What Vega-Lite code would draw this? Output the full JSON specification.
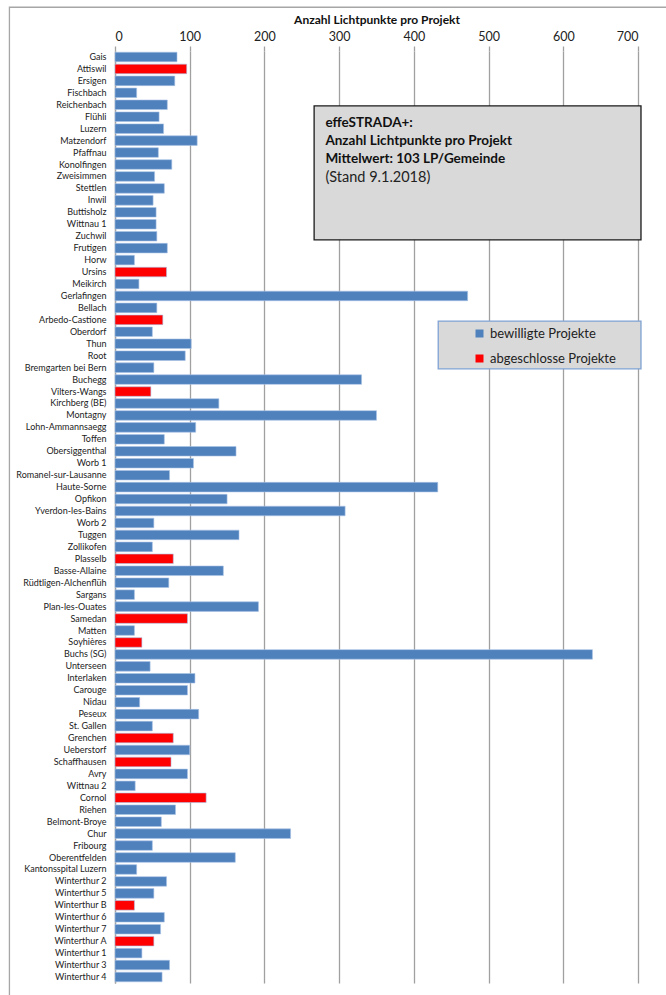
{
  "$schema": "https://vega.github.io/schema/vega-lite/v6.json",
  "width": 523,
  "height": 932,
  "autosize": {"type": "none"},
  "padding": {"left": 115, "top": 51, "right": 28, "bottom": 12},
  "background": "white",
  "config": {
    "view": {"stroke": null},
    "font": "Lato",
    "legend": {"labelFont": "Lato", "titleFont": "Lato"}
  },
  "resolve": {"scale": {"y": "independent"}},
  "layer": [
    {
      "data": {"values": [{"x0": -141.3, "x1": 760, "r0": -3.66, "r1": 82}]},
      "mark": {"type": "rect", "fill": null, "stroke": "#a6a6a6", "strokeWidth": 1.3},
      "encoding": {
        "x": {"field": "x0", "type": "quantitative", "title": "Anzahl Lichtpunkte pro Projekt"},
        "x2": {"field": "x1"},
        "y": {"field": "r0", "type": "quantitative", "scale": {"domain": [0, 78], "reverse": true, "nice": false, "zero": false}, "axis": null},
        "y2": {"field": "r1"}
      }
    },
    {
      "data": {"values": [
        {"Projekt": "Gais", "LP": 83, "Status": "bewilligte Projekte"},
        {"Projekt": "Attiswil", "LP": 96, "Status": "abgeschlosse Projekte"},
        {"Projekt": "Ersigen", "LP": 80, "Status": "bewilligte Projekte"},
        {"Projekt": "Fischbach", "LP": 29, "Status": "bewilligte Projekte"},
        {"Projekt": "Reichenbach", "LP": 70, "Status": "bewilligte Projekte"},
        {"Projekt": "Flühli", "LP": 59, "Status": "bewilligte Projekte"},
        {"Projekt": "Luzern", "LP": 65, "Status": "bewilligte Projekte"},
        {"Projekt": "Matzendorf", "LP": 110, "Status": "bewilligte Projekte"},
        {"Projekt": "Pfaffnau", "LP": 58, "Status": "bewilligte Projekte"},
        {"Projekt": "Konolfingen", "LP": 76, "Status": "bewilligte Projekte"},
        {"Projekt": "Zweisimmen", "LP": 53, "Status": "bewilligte Projekte"},
        {"Projekt": "Stettlen", "LP": 66, "Status": "bewilligte Projekte"},
        {"Projekt": "Inwil", "LP": 51, "Status": "bewilligte Projekte"},
        {"Projekt": "Buttisholz", "LP": 55, "Status": "bewilligte Projekte"},
        {"Projekt": "Wittnau 1", "LP": 55, "Status": "bewilligte Projekte"},
        {"Projekt": "Zuchwil", "LP": 56, "Status": "bewilligte Projekte"},
        {"Projekt": "Frutigen", "LP": 70, "Status": "bewilligte Projekte"},
        {"Projekt": "Horw", "LP": 26, "Status": "bewilligte Projekte"},
        {"Projekt": "Ursins", "LP": 69, "Status": "abgeschlosse Projekte"},
        {"Projekt": "Meikirch", "LP": 32, "Status": "bewilligte Projekte"},
        {"Projekt": "Gerlafingen", "LP": 472, "Status": "bewilligte Projekte"},
        {"Projekt": "Bellach", "LP": 56, "Status": "bewilligte Projekte"},
        {"Projekt": "Arbedo-Castione", "LP": 64, "Status": "abgeschlosse Projekte"},
        {"Projekt": "Oberdorf", "LP": 50, "Status": "bewilligte Projekte"},
        {"Projekt": "Thun", "LP": 102, "Status": "bewilligte Projekte"},
        {"Projekt": "Root", "LP": 94, "Status": "bewilligte Projekte"},
        {"Projekt": "Bremgarten bei Bern", "LP": 52, "Status": "bewilligte Projekte"},
        {"Projekt": "Buchegg", "LP": 330, "Status": "bewilligte Projekte"},
        {"Projekt": "Vilters-Wangs", "LP": 48, "Status": "abgeschlosse Projekte"},
        {"Projekt": "Kirchberg (BE)", "LP": 139, "Status": "bewilligte Projekte"},
        {"Projekt": "Montagny", "LP": 350, "Status": "bewilligte Projekte"},
        {"Projekt": "Lohn-Ammannsaegg", "LP": 108, "Status": "bewilligte Projekte"},
        {"Projekt": "Toffen", "LP": 66, "Status": "bewilligte Projekte"},
        {"Projekt": "Obersiggenthal", "LP": 162, "Status": "bewilligte Projekte"},
        {"Projekt": "Worb 1", "LP": 105, "Status": "bewilligte Projekte"},
        {"Projekt": "Romanel-sur-Lausanne", "LP": 73, "Status": "bewilligte Projekte"},
        {"Projekt": "Haute-Sorne", "LP": 432, "Status": "bewilligte Projekte"},
        {"Projekt": "Opfikon", "LP": 150, "Status": "bewilligte Projekte"},
        {"Projekt": "Yverdon-les-Bains", "LP": 308, "Status": "bewilligte Projekte"},
        {"Projekt": "Worb 2", "LP": 52, "Status": "bewilligte Projekte"},
        {"Projekt": "Tuggen", "LP": 166, "Status": "bewilligte Projekte"},
        {"Projekt": "Zollikofen", "LP": 50, "Status": "bewilligte Projekte"},
        {"Projekt": "Plasselb", "LP": 78, "Status": "abgeschlosse Projekte"},
        {"Projekt": "Basse-Allaine", "LP": 145, "Status": "bewilligte Projekte"},
        {"Projekt": "Rüdtligen-Alchenflüh", "LP": 72, "Status": "bewilligte Projekte"},
        {"Projekt": "Sargans", "LP": 26, "Status": "bewilligte Projekte"},
        {"Projekt": "Plan-les-Ouates", "LP": 192, "Status": "bewilligte Projekte"},
        {"Projekt": "Samedan", "LP": 97, "Status": "abgeschlosse Projekte"},
        {"Projekt": "Matten", "LP": 26, "Status": "bewilligte Projekte"},
        {"Projekt": "Soyhières", "LP": 36, "Status": "abgeschlosse Projekte"},
        {"Projekt": "Buchs (SG)", "LP": 639, "Status": "bewilligte Projekte"},
        {"Projekt": "Unterseen", "LP": 47, "Status": "bewilligte Projekte"},
        {"Projekt": "Interlaken", "LP": 107, "Status": "bewilligte Projekte"},
        {"Projekt": "Carouge", "LP": 97, "Status": "bewilligte Projekte"},
        {"Projekt": "Nidau", "LP": 33, "Status": "bewilligte Projekte"},
        {"Projekt": "Peseux", "LP": 112, "Status": "bewilligte Projekte"},
        {"Projekt": "St. Gallen", "LP": 50, "Status": "bewilligte Projekte"},
        {"Projekt": "Grenchen", "LP": 78, "Status": "abgeschlosse Projekte"},
        {"Projekt": "Ueberstorf", "LP": 100, "Status": "bewilligte Projekte"},
        {"Projekt": "Schaffhausen", "LP": 75, "Status": "abgeschlosse Projekte"},
        {"Projekt": "Avry", "LP": 97, "Status": "bewilligte Projekte"},
        {"Projekt": "Wittnau 2", "LP": 27, "Status": "bewilligte Projekte"},
        {"Projekt": "Cornol", "LP": 122, "Status": "abgeschlosse Projekte"},
        {"Projekt": "Riehen", "LP": 81, "Status": "bewilligte Projekte"},
        {"Projekt": "Belmont-Broye", "LP": 62, "Status": "bewilligte Projekte"},
        {"Projekt": "Chur", "LP": 235, "Status": "bewilligte Projekte"},
        {"Projekt": "Fribourg", "LP": 50, "Status": "bewilligte Projekte"},
        {"Projekt": "Oberentfelden", "LP": 161, "Status": "bewilligte Projekte"},
        {"Projekt": "Kantonsspital Luzern", "LP": 29, "Status": "bewilligte Projekte"},
        {"Projekt": "Winterthur 2", "LP": 69, "Status": "bewilligte Projekte"},
        {"Projekt": "Winterthur 5", "LP": 52, "Status": "bewilligte Projekte"},
        {"Projekt": "Winterthur B", "LP": 26, "Status": "abgeschlosse Projekte"},
        {"Projekt": "Winterthur 6", "LP": 66, "Status": "bewilligte Projekte"},
        {"Projekt": "Winterthur 7", "LP": 61, "Status": "bewilligte Projekte"},
        {"Projekt": "Winterthur A", "LP": 52, "Status": "abgeschlosse Projekte"},
        {"Projekt": "Winterthur 1", "LP": 36, "Status": "bewilligte Projekte"},
        {"Projekt": "Winterthur 3", "LP": 73, "Status": "bewilligte Projekte"},
        {"Projekt": "Winterthur 4", "LP": 63, "Status": "bewilligte Projekte"}
      ]},
      "mark": {"type": "bar", "stroke": "#a9c2e6", "strokeWidth": 0.6},
      "encoding": {
        "y": {
          "field": "Projekt", "type": "nominal", "sort": null,
          "scale": {"paddingInner": 0.2, "paddingOuter": 0.1},
          "axis": {
            "title": null, "ticks": false, "domain": true, "domainColor": "#a0a0a0", "domainWidth": 1.3,
            "labelFontSize": 9, "labelPadding": 9, "labelColor": "#222222", "labelFont": "Lato"
          }
        },
        "x": {
          "field": "LP", "type": "quantitative",
          "title": "Anzahl Lichtpunkte pro Projekt",
          "scale": {"domain": [0, 700], "nice": false},
          "axis": {
            "orient": "top", "values": [0, 100, 200, 300, 400, 500, 600, 700],
            "grid": true, "gridColor": "#a0a0a0", "gridWidth": 1.3,
            "domain": false, "ticks": true, "tickSize": 5, "tickColor": "#a0a0a0", "tickWidth": 1.3,
            "labelFontSize": 12.5, "labelPadding": 3, "labelColor": "#222222", "labelFont": "Lato",
            "titleFontSize": 12, "titleFontWeight": "bold", "titlePadding": 4, "titleColor": "#111111", "titleFont": "Lato"
          }
        },
        "color": {
          "field": "Status", "type": "nominal",
          "scale": {"domain": ["bewilligte Projekte", "abgeschlosse Projekte"], "range": ["#4f81bd", "#ff0000"]},
          "legend": {
            "title": null, "orient": "none", "legendX": 358, "legendY": 276,
            "symbolType": "square", "symbolSize": 64, "symbolStrokeWidth": 0,
            "labelFontSize": 13, "labelColor": "#222222", "labelOffset": 4,
            "rowPadding": 11, "padding": 0
          }
        }
      }
    },
    {
      "data": {"values": [{"x0": 266.5, "x1": 704, "r0": 4.6, "r1": 15.8}]},
      "mark": {"type": "rect", "fill": "#d9d9d9", "stroke": "#1a1a1a", "strokeWidth": 1.3},
      "encoding": {
        "x": {"field": "x0", "type": "quantitative", "title": "Anzahl Lichtpunkte pro Projekt"},
        "x2": {"field": "x1"},
        "y": {"field": "r0", "type": "quantitative", "scale": {"domain": [0, 78], "reverse": true, "nice": false, "zero": false}, "axis": null},
        "y2": {"field": "r1"}
      }
    },
    {
      "data": {"values": [{"x0": 432.6, "x1": 704, "r0": 22.6, "r1": 26.6}]},
      "mark": {"type": "rect", "fill": "#d9d9d9", "stroke": "#7fa3d3", "strokeWidth": 1.3},
      "encoding": {
        "x": {"field": "x0", "type": "quantitative", "title": "Anzahl Lichtpunkte pro Projekt"},
        "x2": {"field": "x1"},
        "y": {"field": "r0", "type": "quantitative", "scale": {"domain": [0, 78], "reverse": true, "nice": false, "zero": false}, "axis": null},
        "y2": {"field": "r1"}
      }
    },
    {
      "data": {"values": [
        {"t": "effeSTRADA+:", "x": 281.6, "r": 6.0},
        {"t": "Anzahl Lichtpunkte pro Projekt", "x": 281.6, "r": 7.5},
        {"t": "Mittelwert: 103 LP/Gemeinde", "x": 281.6, "r": 9.0}
      ]},
      "mark": {"type": "text", "align": "left", "baseline": "middle", "fontSize": 13.5, "fontWeight": "bold", "font": "Lato", "color": "#111111"},
      "encoding": {
        "x": {"field": "x", "type": "quantitative", "title": "Anzahl Lichtpunkte pro Projekt"},
        "y": {"field": "r", "type": "quantitative", "scale": {"domain": [0, 78], "reverse": true, "nice": false, "zero": false}, "axis": null},
        "text": {"field": "t"}
      }
    },
    {
      "data": {"values": [
        {"t": "(Stand 9.1.2018)", "x": 281.6, "r": 10.6}
      ]},
      "mark": {"type": "text", "align": "left", "baseline": "middle", "fontSize": 14.5, "font": "Lato", "color": "#222222"},
      "encoding": {
        "x": {"field": "x", "type": "quantitative", "title": "Anzahl Lichtpunkte pro Projekt"},
        "y": {"field": "r", "type": "quantitative", "scale": {"domain": [0, 78], "reverse": true, "nice": false, "zero": false}, "axis": null},
        "text": {"field": "t"}
      }
    }
  ]
}
